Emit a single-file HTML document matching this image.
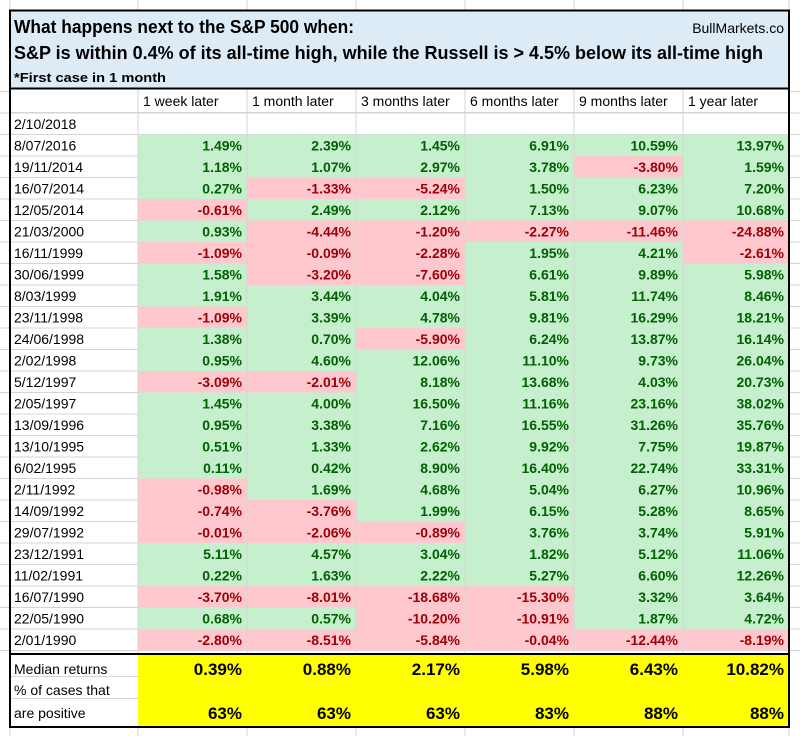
<!DOCTYPE html>
<html><head><meta charset="utf-8"><style>
body{margin:0;background:#fff;width:800px;height:736px;overflow:hidden}
svg{display:block;font-family:"Liberation Sans",sans-serif}
</style></head><body>
<svg id="s" width="800" height="736"></svg>
<script>
const dates=["8/07/2016","19/11/2014","16/07/2014","12/05/2014","21/03/2000","16/11/1999","30/06/1999","8/03/1999","23/11/1998","24/06/1998","2/02/1998","5/12/1997","2/05/1997","13/09/1996","13/10/1995","6/02/1995","2/11/1992","14/09/1992","29/07/1992","23/12/1991","11/02/1991","16/07/1990","22/05/1990","2/01/1990"];
const headers=["1 week later","1 month later","3 months later","6 months later","9 months later","1 year later"];
const week=[1.49,1.18,0.27,-0.61,0.93,-1.09,1.58,1.91,-1.09,1.38,0.95,-3.09,1.45,0.95,0.51,0.11,-0.98,-0.74,-0.01,5.11,0.22,-3.70,0.68,-2.80];
const month=[2.39,1.07,-1.33,2.49,-4.44,-0.09,-3.20,3.44,3.39,0.70,4.60,-2.01,4.00,3.38,1.33,0.42,1.69,-3.76,-2.06,4.57,1.63,-8.01,0.57,-8.51];
const m3=[1.45,2.97,-5.24,2.12,-1.20,-2.28,-7.60,4.04,4.78,-5.90,12.06,8.18,16.50,7.16,2.62,8.90,4.68,1.99,-0.89,3.04,2.22,-18.68,-10.20,-5.84];
const m6=[6.91,3.78,1.50,7.13,-2.27,1.95,6.61,5.81,9.81,6.24,11.10,13.68,11.16,16.55,9.92,16.40,5.04,6.15,3.76,1.82,5.27,-15.30,-10.91,-0.04];
const m9=[10.59,-3.80,6.23,9.07,-11.46,4.21,9.89,11.74,16.29,13.87,9.73,4.03,23.16,31.26,7.75,22.74,6.27,5.28,3.74,5.12,6.60,3.32,1.87,-12.44];
const y1=[13.97,1.59,7.20,10.68,-24.88,-2.61,5.98,8.46,18.21,16.14,26.04,20.73,38.02,35.76,19.87,33.31,10.96,8.65,5.91,11.06,12.26,3.64,4.72,-8.19];
const medians=["0.39%","0.88%","2.17%","5.98%","6.43%","10.82%"];
const positives=["63%","63%","63%","83%","88%","88%"];
const series=[week,month,m3,m6,m9,y1];
const S=document.getElementById('s');const NS="http://www.w3.org/2000/svg";
function el(t,a,txt){const e=document.createElementNS(NS,t);for(const k in a)e.setAttribute(k,a[k]);if(txt!=null)e.textContent=txt;S.appendChild(e);return e;}
const colX=[10,138,247,356,465,574,683,789];
const rowTop=134.5,rowH=21.5;
function cx(i){return colX[i];}
function ry(r){return rowTop+r*rowH;}
// sheet gridlines
for(let i=0;i<colX.length;i++){const g=el('line',{x1:cx(i),x2:cx(i),y1:0,y2:736,stroke:'#d4d4d4'});}
for(let r=-2;r<=dates.length;r++){const g=el('line',{x1:0,x2:800,y1:ry(r),y2:ry(r),stroke:'#d4d4d4'});}
// header
const hb=el('rect',{x:10,y:10,width:779,height:78,fill:'#ddebf7'});
let t=el('text',{x:14,y:33,'font-size':18,'font-weight':'bold',fill:'#000',textLength:340,lengthAdjust:'spacingAndGlyphs'},"What happens next to the S&P 500 when:");
t=el('text',{x:14,y:59,'font-size':18,'font-weight':'bold',fill:'#000',textLength:749,lengthAdjust:'spacingAndGlyphs'},"S&P is within 0.4% of its all-time high, while the Russell is > 4.5% below its all-time high");
t=el('text',{x:14,y:82,'font-size':13,'font-weight':'bold',fill:'#000',textLength:152,lengthAdjust:'spacingAndGlyphs'},"*First case in 1 month");
t=el('text',{x:784,y:33,'font-size':14,fill:'#000','text-anchor':'end'},"BullMarkets.co");
el('rect',{x:88.5,y:112,width:0,height:0,fill:'none'});
el('rect',{x:10,y:88.5,width:779,height:24,fill:'#fff'});
headers.forEach((h,i)=>{const e=el('text',{x:cx(i+1)+5,y:106,'font-size':14,fill:'#000'},h);});
el('line',{x1:10,x2:789,y1:112.5,y2:112.5,stroke:'#d4d4d4'});
for(let i=1;i<7;i++)el('line',{x1:cx(i),x2:cx(i),y1:88,y2:134,stroke:'#d4d4d4'});
t=el('text',{x:14,y:129,'font-size':14,fill:'#000'},"2/10/2018");
// data
dates.forEach((d,r)=>{
  const e=el('text',{x:14,y:ry(r)+16,'font-size':14,fill:'#000'},d);
  
  series.forEach((arr,c)=>{
    const v=arr[r];const pos=v>=0;
    const rc=el('rect',{x:cx(c+1)+0.5,y:ry(r),width:cx(c+2)-cx(c+1)-1,height:rowH,fill:pos?'#c6efce':'#ffc7ce'});
    
    const tx=el('text',{x:cx(c+2)-5,y:ry(r)+16,'font-size':14,'font-weight':'bold','text-anchor':'end',fill:pos?'#006100':'#9c0006'},v.toFixed(2)+"%");
    
  });
});
// summary
const yb=ry(dates.length);
const yr=el('rect',{x:138,y:yb+4,width:651,height:727-yb-4,fill:'#ffff00'});
el('rect',{x:10,y:yb+4,width:128,height:727-yb-4,fill:'#fff'});
el('line',{x1:10,x2:138,y1:yb+26,y2:yb+26,stroke:'#d4d4d4'});
el('line',{x1:10,x2:138,y1:yb+48,y2:yb+48,stroke:'#d4d4d4'});
t=el('text',{x:14,y:674,'font-size':14,fill:'#000'},"Median returns");
t=el('text',{x:14,y:695,'font-size':14,fill:'#000'},"% of cases that");
t=el('text',{x:14,y:718,'font-size':14,fill:'#000'},"are positive");
medians.forEach((m,c)=>{const e=el('text',{x:cx(c+2)-5,y:675,'font-size':17,'font-weight':'bold','text-anchor':'end',fill:'#000'},m);});
positives.forEach((m,c)=>{const e=el('text',{x:cx(c+2)-5,y:719,'font-size':17,'font-weight':'bold','text-anchor':'end',fill:'#000'},m);});
// borders
el('rect',{x:10,y:10.5,width:779,height:716.5,fill:'none',stroke:'#000','stroke-width':2});
el('line',{x1:10,x2:789,y1:88.5,y2:88.5,stroke:'#000','stroke-width':2});
el('line',{x1:10,x2:789,y1:yb+3.5,y2:yb+3.5,stroke:'#000','stroke-width':2});
</script>
</body></html>
